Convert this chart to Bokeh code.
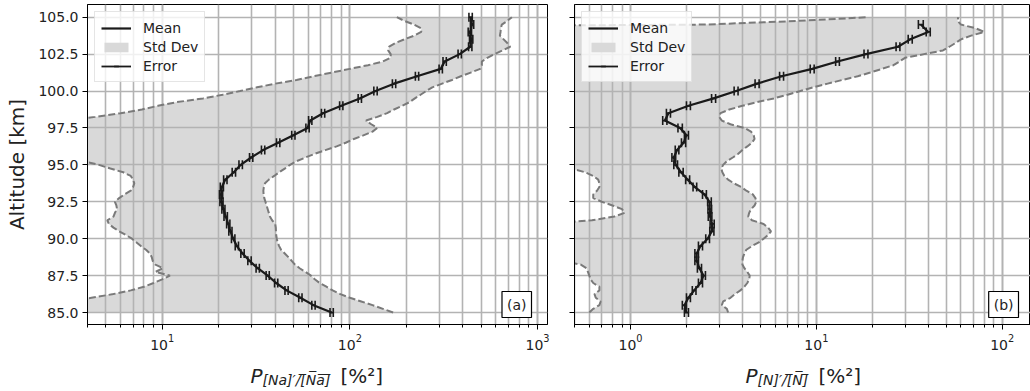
import numpy as np
from bokeh.plotting import figure
from bokeh.layouts import row, column
from bokeh.models import Range1d, FixedTicker, NumeralTickFormatter, Label, Legend, LegendItem
from bokeh.embed import file_html
from bokeh.resources import INLINE

# ---------------- data ----------------
alt_mean = np.arange(85.0, 105.01, 0.5)      # altitude of mean profile points [km]
alt_std = np.arange(85.0, 105.001, 0.25)     # altitude of std-dev envelope points [km]
alt_ticks = [85.0, 87.5, 90.0, 92.5, 95.0, 97.5, 100.0, 102.5, 105.0]

# panel (a): Na
na_mean = [80, 64, 54.5, 46, 40.5, 36.5, 32.3, 29.2, 26.8, 25.0,
           23.9, 23.1, 22.5, 21.8, 21.2, 20.7, 20.6, 20.8, 21.7, 24.1,
           26.2, 29.8, 34.5, 41.5, 50, 59.5, 61.5, 72, 90, 113,
           137, 172, 228, 305, 320, 385, 438, 443, 436, 448, 440]
na_err = [1.6, 1.3, 1.1, 0.9, 0.8, 0.7, 0.65, 0.6, 0.55, 0.5,
          0.5, 0.45, 0.45, 0.45, 0.4, 0.4, 0.4, 0.4, 0.45, 0.5,
          0.55, 0.6, 0.7, 0.85, 1.0, 1.2, 1.25, 1.45, 1.8, 2.3,
          2.8, 3.5, 4.6, 6.2, 6.5, 7.8, 9, 9, 9, 9, 9]
na_std_lo = [2.0, 2.2, 2.5, 3.2, 4.2, 5.5, 6.8, 8.0, 9.0, 10.0,
             11.0, 9.2, 10.1, 9.2, 8.9, 8.8, 8.6, 8.2, 7.7, 7.3,
             6.9, 6.4, 5.9, 5.5, 5.2, 5.1, 5.5, 5.6, 5.75, 5.7,
             5.6, 5.9, 6.3, 6.8, 7.0, 7.1, 7.0, 6.8, 6.2, 5.3,
             4.6, 3.8, 2.5, 2.0, 2.0, 2.0, 2.0, 2.0, 2.0, 2.0,
             2.0, 2.2, 3.0, 4.4, 6.0, 7.8, 9.5, 12.0, 16.5, 21.0,
             26.0, 32.0, 40.0, 52.0, 64.0, 80.0, 100.0, 125.0, 150.0, 165.0,
             165.0, 160.0, 162.0, 175.0, 195.0, 220.0, 240.0, 240.0, 220.0, 195.0,
             178.0]
na_std_hi = [170, 150, 132, 115, 100, 89, 81, 75, 69, 65,
             62, 58, 54, 51, 49, 47, 45, 43, 42, 41.2,
             40.8, 40.5, 40.4, 40.3, 40.0, 38.5, 37.5, 37.0, 36.5, 36.0,
             35.5, 35.0, 34.7, 34.6, 34.8, 35.3, 37.0, 39.5, 42.0, 45.0,
             48, 52, 58, 65, 74, 85, 95, 105, 118, 132,
             140, 130, 122, 140, 158, 172, 190, 208, 222, 238,
             255, 275, 310, 350, 390, 440, 495, 505, 505, 540,
             590, 650, 715, 690, 660, 630, 635, 638, 645, 690,
             730]

# panel (b): N
n_alt_mean = alt_mean[:40]
n_mean = [2.0, 1.95, 2.05, 2.2, 2.38, 2.47, 2.35, 2.27, 2.27, 2.38,
          2.6, 2.74, 2.75, 2.68, 2.67, 2.66, 2.5, 2.22, 2.03, 1.87,
          1.75, 1.71, 1.78, 1.93, 2.0, 1.85, 1.53, 1.6, 2.05, 2.8,
          3.7, 4.8, 6.5, 9.5, 13.0, 18.5, 27.5, 32, 40, 36.5]
n_err = [0.05, 0.05, 0.05, 0.05, 0.06, 0.06, 0.06, 0.05, 0.05, 0.06,
         0.06, 0.07, 0.07, 0.06, 0.06, 0.06, 0.06, 0.05, 0.05, 0.05,
         0.04, 0.04, 0.04, 0.05, 0.05, 0.05, 0.04, 0.04, 0.05, 0.07,
         0.09, 0.12, 0.16, 0.23, 0.3, 0.45, 0.65, 0.8, 1.0, 1.1]
n_std_lo = [0.60, 0.63, 0.68, 0.69, 0.65, 0.64, 0.68, 0.68, 0.63, 0.61,
            0.60, 0.59, 0.58, 0.54, 0.42, 0.30, 0.30, 0.30, 0.30, 0.30,
            0.30, 0.30, 0.30, 0.30, 0.35, 0.62, 0.82, 0.93, 0.90, 0.80,
            0.70, 0.63, 0.63, 0.66, 0.68, 0.68, 0.67, 0.63, 0.57, 0.48,
            0.30, 0.30, 0.30, 0.30, 0.30, 0.30, 0.30, 0.30, 0.30, 0.30,
            0.30, 0.30, 0.30, 0.30, 0.30, 0.30, 0.30, 0.30, 0.30, 0.30,
            0.30, 0.30, 0.30, 0.30, 0.30, 0.30, 0.30, 0.30, 0.30, 0.30,
            0.30, 0.30, 0.30, 0.30, 0.30, 0.30, 0.30, 0.001, 2.5, 8.0,
            19.0]
n_std_hi = [3.35, 3.3, 3.1, 3.15, 3.45, 3.65, 3.9, 4.1, 4.25, 4.35,
            4.38, 4.25, 4.1, 4.0, 4.0, 4.03, 4.1, 4.2, 4.5, 4.9,
            5.2, 5.5, 5.7, 5.5, 5.2, 4.5, 4.3, 4.35, 4.45, 4.65,
            4.75, 4.7, 4.55, 4.2, 3.95, 3.6, 3.35, 3.2, 3.12, 3.08,
            3.15, 3.3, 3.55, 3.8, 4.0, 4.25, 4.5, 4.65, 4.6, 4.45,
            4.1, 3.45, 3.1, 3.0, 3.05, 3.4, 4.0, 4.8, 5.9, 7.0,
            8.2, 9.6, 11.5, 13.8, 16.7, 19.5, 22.5, 26, 28, 30,
            38, 48, 52, 56, 60, 68, 80, 72, 60, 57.5,
            58]

# ---------------- styling ----------------
FONT = "DejaVu Sans"
TXT = "#222222"
GRID = "#b3b3b3"
FILL = "#d9d9d9"
EDGE = "#7a7a7a"
LINE = "#1a1a1a"
W1, W2 = 567, 463
H_PLOT, H_LAB = 355, 36


def make_panel(width, min_left, min_right, xr, m_alt, mean, err, lo, hi,
               tag, show_ylabel):
    p = figure(width=width, height=H_PLOT, x_axis_type="log",
               x_range=Range1d(*xr), y_range=Range1d(84.19, 105.86),
               output_backend="svg", toolbar_location=None,
               min_border_left=min_left, min_border_right=min_right,
               min_border_top=4, min_border_bottom=31,
               background_fill_color="white", border_fill_color="white")
    p.outline_line_color = "black"
    p.outline_line_width = 1

    # grid
    p.xgrid.grid_line_color = GRID
    p.xgrid.grid_line_width = 1.6
    p.xgrid.minor_grid_line_color = GRID
    p.xgrid.minor_grid_line_width = 1.6
    p.ygrid.grid_line_color = GRID
    p.ygrid.grid_line_width = 1.6

    # axes
    for ax in (p.xaxis, p.yaxis):
        ax.axis_line_color = "black"
        ax.major_tick_line_color = "black"
        ax.minor_tick_line_color = "black"
        ax.major_tick_out = 5
        ax.major_tick_in = 0
        ax.minor_tick_out = 3
        ax.minor_tick_in = 0
        ax.major_label_text_font = FONT
        ax.major_label_text_font_size = "14px"
        ax.major_label_text_color = TXT
        ax.major_label_standoff = 4
    p.yaxis.ticker = FixedTicker(ticks=alt_ticks)
    p.yaxis.formatter = NumeralTickFormatter(format="0.0")
    if show_ylabel:
        p.yaxis.axis_label = "Altitude [km]"
        p.yaxis.axis_label_text_font = FONT
        p.yaxis.axis_label_text_font_size = "20px"
        p.yaxis.axis_label_text_font_style = "normal"
        p.yaxis.axis_label_text_color = TXT
        p.yaxis.axis_label_standoff = 6
    else:
        p.yaxis.major_label_overrides = {t: "" for t in alt_ticks}
        p.yaxis.major_label_standoff = 0

    # std-dev envelope
    fill_r = p.harea(x1=lo, x2=hi, y=alt_std, fill_color=FILL, fill_alpha=1.0,
                     level="image")
    p.line(lo, alt_std, line_color=EDGE, line_dash="7 3", line_width=2)
    p.line(hi, alt_std, line_color=EDGE, line_dash="7 3", line_width=2)

    # mean profile with error bars
    mean_a = np.asarray(mean, dtype=float)
    err_a = np.asarray(err, dtype=float)
    m_alt = np.asarray(m_alt, dtype=float)
    mean_r = p.line(mean_a, m_alt, line_color=LINE, line_width=2.2)
    seg_r = p.segment(x0=mean_a - err_a, y0=m_alt, x1=mean_a + err_a, y1=m_alt,
                      line_color=LINE, line_width=1.8)
    cap_r = p.scatter(x=np.concatenate([mean_a - err_a, mean_a + err_a]),
                      y=np.concatenate([m_alt, m_alt]),
                      marker="dash", angle=np.pi / 2, size=9,
                      line_color=LINE, line_width=1.6)

    legend = Legend(items=[LegendItem(label="Mean", renderers=[mean_r]),
                           LegendItem(label="Std Dev", renderers=[fill_r]),
                           LegendItem(label="Error", renderers=[seg_r, cap_r])],
                    location="top_left", margin=7, padding=6, spacing=0,
                    glyph_width=30, glyph_height=12, label_height=19,
                    label_standoff=12, label_text_font=FONT,
                    label_text_font_size="14px", label_text_color=TXT,
                    border_line_color="#cccccc", border_line_width=1,
                    background_fill_color="white", background_fill_alpha=0.8)
    p.add_layout(legend)

    # panel tag
    p.add_layout(Label(x=444, y=7, x_units="screen", y_units="screen",
                       text=tag, text_align="right", text_baseline="bottom",
                       text_font=FONT, text_font_size="14px", text_color=TXT,
                       border_line_color="black", border_line_width=1.2,
                       background_fill_color="white", padding=5))
    return p


def make_xlabel(width, min_left, min_right, sub, xpos):
    # strip below the panel that carries the x-axis title (P with subscript)
    q = figure(width=width, height=H_LAB, x_range=Range1d(0, 1), y_range=Range1d(0, 1),
               output_backend="svg", toolbar_location=None,
               x_axis_location=None, y_axis_location=None,
               min_border_left=min_left, min_border_right=min_right,
               min_border_top=0, min_border_bottom=0,
               background_fill_color="white", border_fill_color="white")
    q.outline_line_color = None
    q.grid.visible = False
    q.add_layout(Label(x=xpos[0], y=16, x_units="screen", y_units="screen",
                       text="P", text_font=FONT, text_font_style="italic",
                       text_font_size="20px", text_color=TXT,
                       text_baseline="alphabetic"))
    q.add_layout(Label(x=xpos[1], y=12, x_units="screen", y_units="screen",
                       text=sub, text_font=FONT, text_font_style="italic",
                       text_font_size="14px", text_color=TXT,
                       text_baseline="alphabetic"))
    q.add_layout(Label(x=xpos[2], y=16, x_units="screen", y_units="screen",
                       text="[%\u00b2]", text_font=FONT,
                       text_font_size="20px", text_color=TXT,
                       text_baseline="alphabetic"))
    return q


OV = "\u0305"
sub_na = "[Na]\u2032/" + "".join(c + OV for c in "[Na]")
sub_n = "[N]\u2032/" + "".join(c + OV for c in "[N]")

p1 = make_panel(W1, 87, 20, (4.0, 1130.0), alt_mean, na_mean, na_err,
                na_std_lo, na_std_hi, "(a)", True)
p2 = make_panel(W2, 7, 0, (0.4995, 142.0), n_alt_mean, n_mean, n_err,
                n_std_lo, n_std_hi, "(b)", False)
q1 = make_xlabel(W1, 87, 20, sub_na, (163, 175, 253))
q2 = make_xlabel(W2, 7, 0, sub_n, (171, 183, 244))

layout = column(row(p1, p2, width=W1 + W2, height=H_PLOT),
                row(q1, q2, width=W1 + W2, height=H_LAB),
                width=W1 + W2, height=H_PLOT + H_LAB)
open("out.html", "w").write(file_html(layout, INLINE))
